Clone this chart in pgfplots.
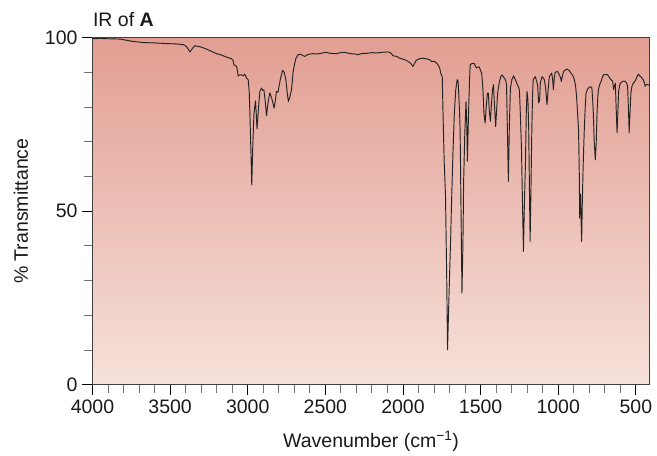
\documentclass[border=0pt]{standalone}
\usepackage{fontspec}
\setmainfont{Liberation Sans}
\usepackage{pgfplots}
\pgfplotsset{compat=1.18}
\definecolor{bgtop}{RGB}{226,158,146}
\definecolor{bgbot}{RGB}{246,225,218}
\definecolor{spec}{RGB}{35,35,35}
\newcommand{\figfont}{\fontsize{19.5bp}{22bp}\selectfont}
\begin{document}
\begin{tikzpicture}
\begin{axis}[
  name=ax,
  scale only axis,
  width=557bp, height=347bp,
  x dir=reverse,
  xmin=412, xmax=4000,
  ymin=0, ymax=100,
  xtick={500,1000,1500,2000,2500,3000,3500,4000},
  minor x tick num=4,
  ytick={0,50,100},
  minor y tick num=4,
  xtick pos=bottom, ytick pos=left,
  tick align=outside,
  major tick length=10.5bp,
  minor tick length=8.5bp,
  major tick style={black, line width=0.9bp},
  minor tick style={black!55, line width=0.9bp},
  axis line style={black!75, line width=0.9bp},
  axis background/.style={top color=bgtop, bottom color=bgbot},
  /pgf/number format/assume math mode=true,
  /pgf/number format/1000 sep={},
  tick label style={font=\figfont, text=black!90},
  yticklabel style={xshift=-1bp},
  xticklabel style={yshift=-1bp},
  title={IR of \textbf{A}},
  every axis title/.style={at={(0,1)}, anchor=base west, xshift=-3bp, yshift=11bp, font=\figfont, text=black!90},
  xlabel={Wavenumber (cm\textsuperscript{−1})},
  every axis x label/.style={at={(axis description cs:0.5,0)}, anchor=base, yshift=-63bp, font=\figfont, text=black!90},
  ylabel={\% Transmittance},
  every axis y label/.style={at={(axis description cs:0,0.5)}, xshift=-64.5bp, rotate=90, anchor=base, font=\figfont, text=black!90},
]
\addplot[spec, line width=0.95bp, line join=round, mark=none] coordinates {
(4000,99.7)(3950,99.8)(3900,99.7)(3822,99.6)(3750,99.0)(3673,98.6)(3600,98.5)
(3522,98.3)(3460,98.2)(3415,98.0)(3395,97.5)(3372,95.9)(3355,97.0)(3340,97.7)
(3300,97.3)(3265,96.7)(3230,96.0)(3201,95.4)(3170,95.0)(3136,94.4)(3115,94.1)
(3104,93.9)(3095,93.5)(3089,92.2)(3078,91.9)(3072,91.7)(3066,90.5)(3062,89.0)
(3050,89.3)(3040,89.3)(3030,89.0)(3019,89.5)(3008,88.4)(2997,87.9)(2990,84)
(2986,78)(2980,68)(2974,57.6)(2968,68)(2960,78)(2950,81.8)(2945,78)(2940,73.7)
(2932,79)(2922,84.5)(2911,85.5)(2903,84.8)(2896,85)(2888,82)(2879,77.5)
(2870,81)(2858,84.1)(2845,82.5)(2830,79.7)(2822,82)(2815,84.5)(2805,84.3)
(2790,88)(2776,90.6)(2765,90)(2755,88)(2745,84)(2738,81.6)(2728,83)(2718,85)
(2708,90)(2700,92)(2690,94)(2676,95.1)(2660,95.2)(2633,94.6)(2610,95.2)
(2580,95.4)(2550,95.3)(2520,95.6)(2494,95.8)(2470,95.5)(2429,95.4)(2400,95.7)
(2376,95.8)(2340,95.4)(2310,95.3)(2290,95.1)(2260,95.5)(2230,95.5)(2200,95.7)
(2172,95.6)(2130,95.8)(2100,95.9)(2086,95.8)(2070,95.2)(2065,94.8)(2040,94.6)
(2022,94.1)(2000,93.8)(1990,93.7)(1968,93.2)(1950,92.6)(1936,91.7)(1928,92.4)
(1914,93.5)(1895,93.9)(1872,94.1)(1850,93.9)(1829,93.7)(1818,93.2)(1797,93.2)
(1780,92.5)(1765,91.5)(1755,89.5)(1747,88.8)(1742,78.3)(1735,65)(1726,54.3)
(1718,30)(1713,10.1)(1707,20)(1700,31.2)(1693,42)(1686,54.3)(1678,67)
(1669,78.3)(1660,85)(1651,87.9)(1645,87.5)(1641,84)(1636,79)(1632,73.5)
(1626,50)(1620,26.4)(1614,40)(1609,59)(1602,72)(1594,81.6)(1589,75)(1585,64.4)
(1580,74)(1576,81)(1571,88)(1567,92.2)(1555,92.6)(1540,92.5)(1530,91.5)
(1525,91.3)(1515,91.6)(1508,91.5)(1500,90.5)(1493,89.8)(1485,85)(1478,78)
(1471,75.4)(1464,80)(1456,84)(1450,84)(1444,79)(1437,75.9)(1430,81)(1423,85)
(1417,86.5)(1410,80)(1403,74.4)(1397,79)(1390,84.1)(1380,87)(1370,88.8)
(1361,89.3)(1350,88.5)(1340,87.9)(1333,86.5)(1328,75)(1321,58.6)(1315,74)
(1308,85.5)(1298,88)(1287,89)(1277,88)(1267,86.9)(1258,86)(1250,85)(1244,78)
(1237,68.7)(1230,52)(1224,38.4)(1218,52)(1211,63.9)(1206,78)(1201,84.5)
(1195,82)(1190,73.5)(1185,55)(1181,41.3)(1176,55)(1170,73.5)(1165,84)
(1161,87.9)(1148,88.8)(1139,87.5)(1133,86.5)(1126,81.2)(1120,82)(1115,87)
(1104,88.8)(1089,87.9)(1080,85)(1072,80.7)(1065,85)(1057,88.8)(1042,89.8)
(1036,88)(1031,85)(1026,88)(1020,90)(1004,90.3)(993,89.3)(985,88.5)(980,87.4)
(973,89)(965,90.3)(946,91)(930,90.6)(918,89.8)(905,89)(896,87.9)(888,86)
(882,83.1)(875,78)(869,73.5)(864,60)(862,48)(859,52)(856,55)(853,48)(849,41.3)
(845,52)(840,62)(836,68)(832,73.5)(826,80)(821,84)(810,85.2)(800,85.8)
(790,85.8)(783,85.5)(778,82)(774,78.3)(768,70)(761,64.8)(755,70)(750,78.3)
(745,83)(741,85)(733,86.5)(724,87.4)(716,88.5)(709,89.3)(695,89.4)(682,89.3)
(670,88.5)(660,87.9)(650,87.5)(645,86)(643,85)(638,86)(632,86.9)(627,80)
(621,72.6)(616,78)(611,84.5)(603,86.5)(596,87.1)(580,87.5)(568,87.4)(560,87)
(553,86)(548,80)(543,72.6)(538,78)(532,84)(525,86)(517,86.9)(508,87.3)
(500,87.9)(490,89)(483,89.5)(475,89)(468,88.8)(460,88.3)(453,87.9)(445,87)
(440,86)(432,86.5)(425,86.5)(412,86.3)
};
\end{axis}
\pgfresetboundingbox
\path ([shift={(-92.5bp,-71bp)}]ax.south west) rectangle ([shift={(7.5bp,37.7bp)}]ax.north east);
\end{tikzpicture}
\end{document}
